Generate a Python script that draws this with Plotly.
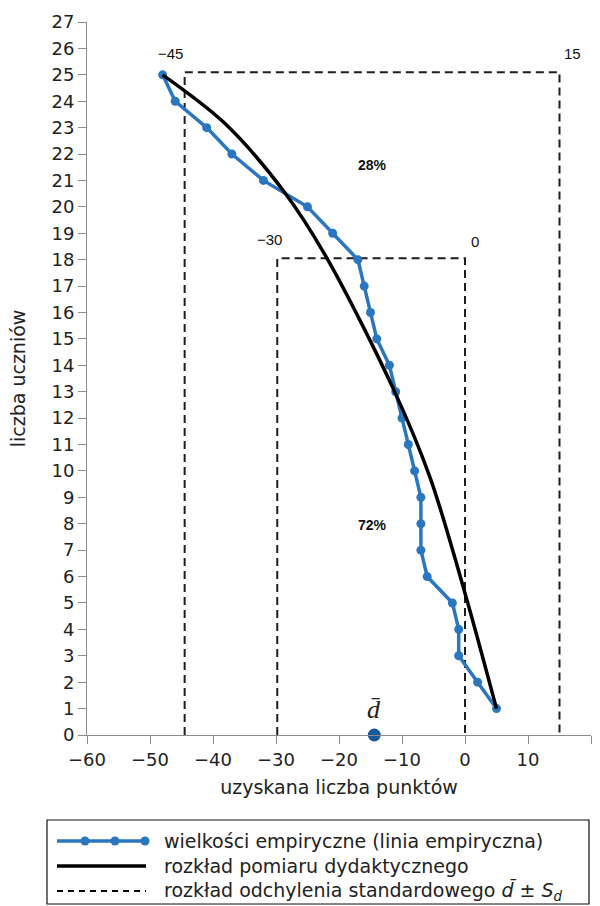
import plotly.graph_objects as go

# ---------------- data ----------------
students = [25, 24, 23, 22, 21, 20, 19, 18, 17, 16, 15, 14, 13,
            12, 11, 10, 9, 8, 7, 6, 5, 4, 3, 2, 1]
empirical_points = [-48, -46, -41, -37, -32, -25, -21, -17, -16, -15, -14, -12, -11,
                    -10, -9, -8, -7, -7, -7, -6, -2, -1, -1, 2, 5]

curve_points = [-48, -38.3, -28.8, -21.9, -11.3, -5.5, 0, 5]
curve_students = [25, 23.2, 20.6, 18.05, 13.07, 9.72, 5.37, 1]

mean_d = -14.4
sd_outer_x = [-44.5, 15]
sd_outer_top = 25.1
sd_inner_x = [-29.8, 0]
sd_inner_top = 18.05

outer_labels = ["\u221245", "15"]
inner_labels = ["\u221230", "0"]
share_labels = ["28%", "72%"]
share_positions = [(-14.7, 21.6), (-14.7, 7.95)]

legend_texts = [
    "wielkości empiryczne (linia empiryczna)",
    "rozkład pomiaru dydaktycznego",
    "rozkład odchylenia standardowego <i>d\u0304</i> ± <i>S</i><sub><i>d</i></sub>",
]

x_ticks = [-60, -50, -40, -30, -20, -10, 0, 10, 20]
y_ticks = list(range(0, 28))

BLUE = "#2A77C0"
DARK_BLUE = "#1B5A9A"
DASH = "#1e1e1e"
AXIS = "#8c8c8c"
FONT = "DejaVu Sans"

fig = go.Figure()

# dashed boxes (d ± S and d ± S/2)
for xs, top in [(sd_outer_x, sd_outer_top), (sd_inner_x, sd_inner_top)]:
    fig.add_trace(go.Scatter(
        x=[xs[0], xs[0], xs[1], xs[1]], y=[0, top, top, 0],
        mode="lines", line=dict(color=DASH, width=2, dash="8px,5px"),
        hoverinfo="skip", showlegend=False, cliponaxis=False))

# empirical line
fig.add_trace(go.Scatter(
    x=empirical_points, y=students, mode="lines+markers",
    line=dict(color=BLUE, width=3.5),
    marker=dict(color=BLUE, size=9),
    showlegend=False, cliponaxis=False))

# theoretical curve
fig.add_trace(go.Scatter(
    x=curve_points, y=curve_students, mode="lines",
    line=dict(color="black", width=3.5, shape="spline", smoothing=0.9),
    showlegend=False, cliponaxis=False))

# mean point
fig.add_trace(go.Scatter(
    x=[mean_d], y=[0], mode="markers",
    marker=dict(color=DARK_BLUE, size=13),
    showlegend=False, cliponaxis=False))

annotations = []
annotations.append(dict(x=mean_d, y=0.95, text="<i>d\u0304</i>", showarrow=False,
                        font=dict(family="Liberation Serif", size=26, color="#222")))
for lbl, xv, yv in [(outer_labels[0], sd_outer_x[0] - 2.2, sd_outer_top + 0.7),
                    (outer_labels[1], sd_outer_x[1] + 2.0, sd_outer_top + 0.7),
                    (inner_labels[0], sd_inner_x[0] - 1.3, sd_inner_top + 0.7),
                    (inner_labels[1], sd_inner_x[1] + 1.6, sd_inner_top + 0.65)]:
    annotations.append(dict(x=xv, y=yv, text=lbl, showarrow=False,
                            font=dict(family="Liberation Sans", size=15, color="#111")))
for lbl, (xv, yv) in zip(share_labels, share_positions):
    annotations.append(dict(x=xv, y=yv, text="<b>" + lbl + "</b>", showarrow=False,
                            font=dict(family="Liberation Sans", size=14, color="#111")))

# ---- manual legend (paper coordinates) ----
L, R, T, B = 87, 591, 22, 735
def px(v):
    return (v - L) / (R - L)
def py(v):
    return (B - v) / (B - T)

shapes = []
shapes.append(dict(type="rect", xref="paper", yref="paper",
                   x0=px(47), x1=px(589), y0=py(820), y1=py(904),
                   line=dict(color="#111", width=1.2), fillcolor="rgba(0,0,0,0)"))
rows = [841, 866, 891]
shapes.append(dict(type="line", xref="paper", yref="paper",
                   x0=px(57), x1=px(146), y0=py(rows[0]), y1=py(rows[0]),
                   line=dict(color=BLUE, width=3.5)))
for mx in [85, 115, 145]:
    shapes.append(dict(type="circle", xref="paper", yref="paper",
                       xsizemode="pixel", ysizemode="pixel",
                       xanchor=px(mx), yanchor=py(rows[0]),
                       x0=-4.5, x1=4.5, y0=-4.5, y1=4.5,
                       fillcolor=BLUE, line=dict(color=BLUE, width=0)))
shapes.append(dict(type="line", xref="paper", yref="paper",
                   x0=px(57), x1=px(146), y0=py(rows[1]), y1=py(rows[1]),
                   line=dict(color="black", width=3.5)))
shapes.append(dict(type="line", xref="paper", yref="paper",
                   x0=px(57), x1=px(146), y0=py(rows[2]), y1=py(rows[2]),
                   line=dict(color="black", width=2, dash="6px,5px")))
for txt, r in zip(legend_texts, rows):
    annotations.append(dict(xref="paper", yref="paper", x=px(162), y=py(r),
                            xanchor="left", yanchor="middle", text=txt,
                            showarrow=False,
                            font=dict(family=FONT, size=19, color="#222")))

fig.update_layout(
    width=600, height=906,
    margin=dict(l=L, r=600 - R, t=T, b=906 - B, autoexpand=False),
    paper_bgcolor="white", plot_bgcolor="white",
    font=dict(family=FONT, size=18, color="#222"),
    shapes=shapes, annotations=annotations,
    showlegend=False,
)
fig.update_xaxes(range=[-60, 20], tickvals=x_ticks, showgrid=False, zeroline=False,
                 showline=True, linecolor=AXIS, linewidth=1,
                 ticks="outside", ticklen=8, tickcolor=AXIS,
                 tickfont=dict(family=FONT, size=18, color="#222"),
                 title=dict(text="uzyskana liczba punktów", standoff=12,
                            font=dict(family=FONT, size=19, color="#222")))
fig.update_yaxes(range=[0, 27], tickvals=y_ticks, showgrid=False, zeroline=False,
                 showline=True, linecolor=AXIS, linewidth=1,
                 ticks="outside", ticklen=8, tickcolor=AXIS,
                 tickfont=dict(family=FONT, size=18, color="#222"),
                 title=dict(text="liczba uczniów", standoff=20,
                            font=dict(family=FONT, size=19, color="#222")))

fig.write_html("out.html")
